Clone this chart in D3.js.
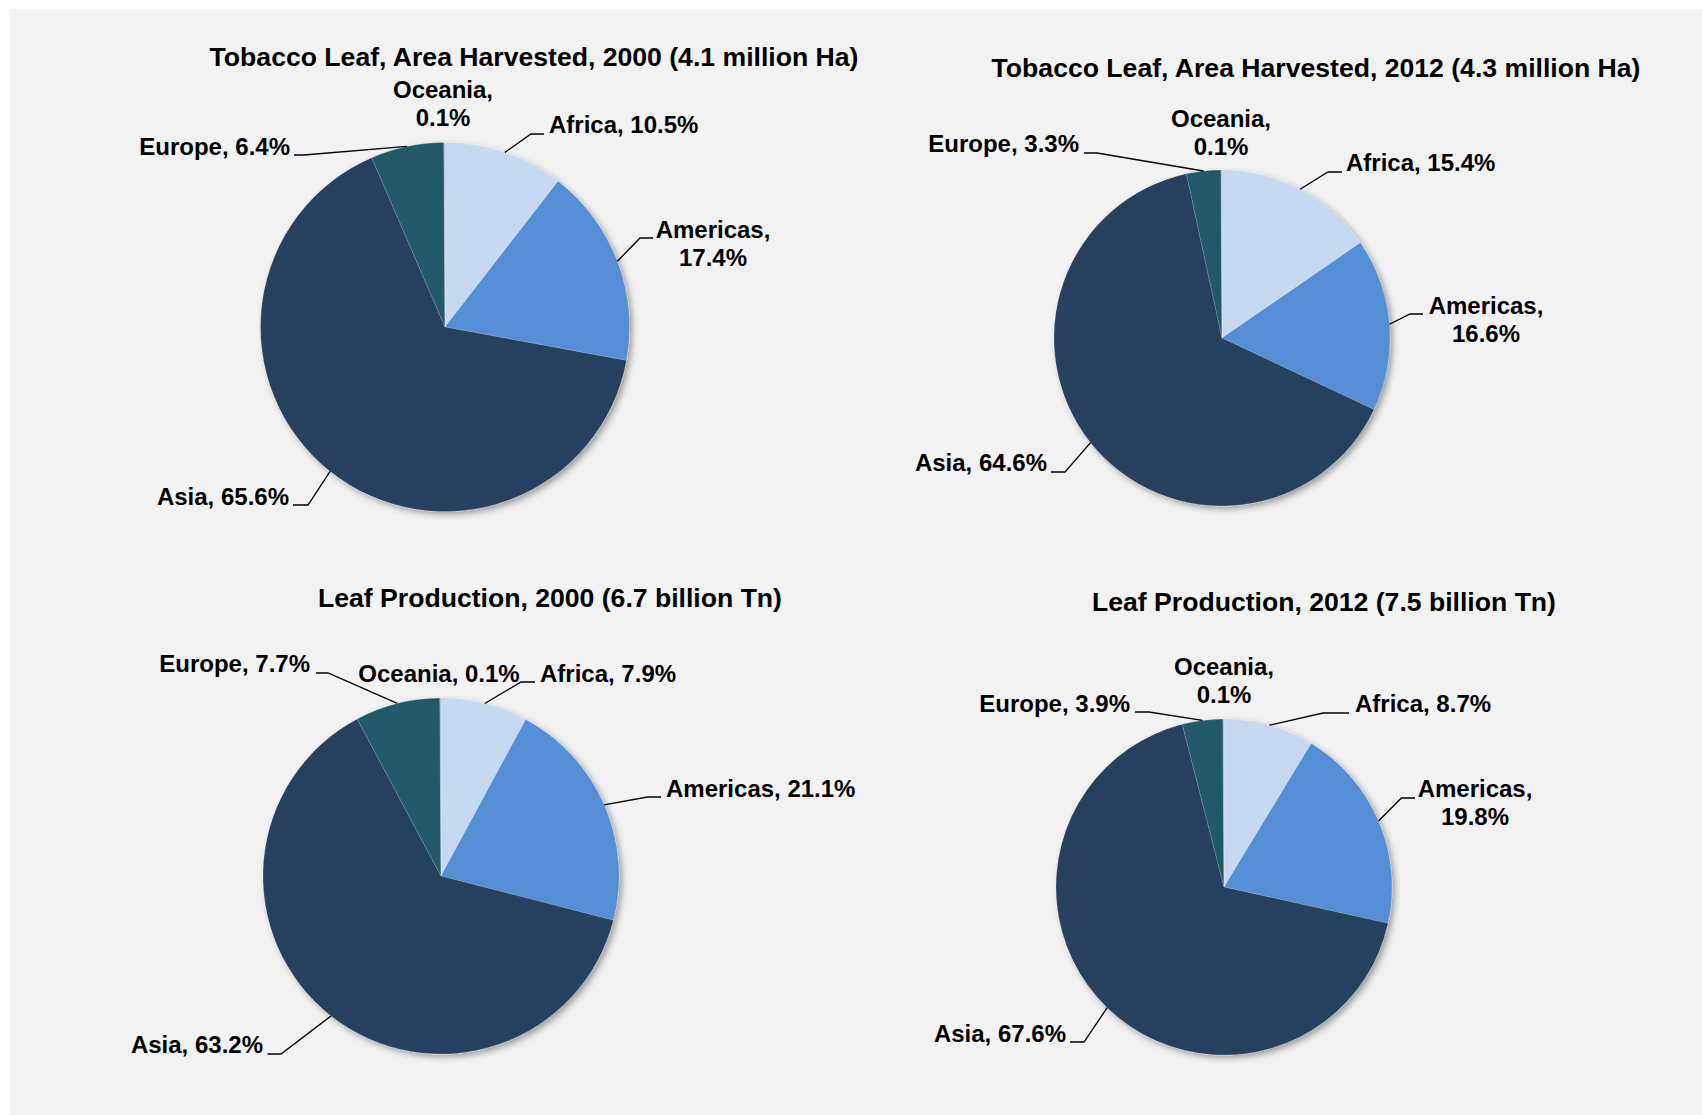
<!DOCTYPE html>
<html>
<meta charset="utf-8">
<style>
    body {
        margin: 0;
        overflow: hidden;
        background: #ffffff;
    }
    svg {
        display: block;
    }
    text {
        font-family: "Liberation Sans", Arial, sans-serif;
        font-weight: bold;
        fill: #000;
    }
    .title {
        font-size: 26.6px;
    }
    .lbl {
        font-size: 24px;
    }
    .leader {
        fill: none;
        stroke: #000;
        stroke-width: 1.3;
    }
</style>
<body>
<script src="https://cdn.jsdelivr.net/npm/d3@7"></script>
<script>
// slice order, clockwise from 12 o'clock
var regions = ["Africa", "Americas", "Asia", "Europe", "Oceania"];
var colors = ["#c6d9f1", "#558ed5", "#254061", "#215968", "#a3bcd6"];

// shares in percent
var area2000 = [10.5, 17.4, 65.6, 6.4, 0.1];
var area2012 = [15.4, 16.6, 64.6, 3.3, 0.1];
var prod2000 = [7.9, 21.1, 63.2, 7.7, 0.1];
var prod2012 = [8.7, 19.8, 67.6, 3.9, 0.1];

var titles = [
    "Tobacco Leaf, Area Harvested, 2000 (4.1 million Ha)",
    "Tobacco Leaf, Area Harvested, 2012 (4.3 million Ha)",
    "Leaf Production, 2000 (6.7 billion Tn)",
    "Leaf Production, 2012 (7.5 billion Tn)"
];

// where each chart sits and where its labels go
var layout = [
    {values: area2000, cx: 445, cy: 327, r: 184.5, tx: 534, ty: 66,
     labels: {
        Africa:   {x: 549, y: 133, a: "start", knee: [531, 134], end: 544},
        Americas: {x: 713, y: 237.5, a: "middle", split: true, knee: [640, 238], end: 653},
        Asia:     {x: 289, y: 505, a: "end", knee: [308, 505], end: 293},
        Europe:   {x: 290, y: 155, a: "end", knee: [304, 155], end: 294},
        Oceania:  {x: 443, y: 98, a: "middle", split: true}
     }},
    {values: area2012, cx: 1222, cy: 338, r: 168, tx: 1316, ty: 77,
     labels: {
        Africa:   {x: 1346, y: 171, a: "start", knee: [1328, 172], end: 1342},
        Americas: {x: 1486, y: 314, a: "middle", split: true, knee: [1410, 314], end: 1423},
        Asia:     {x: 1047, y: 471, a: "end", knee: [1065, 472], end: 1051},
        Europe:   {x: 1079, y: 152, a: "end", knee: [1097, 153], end: 1084},
        Oceania:  {x: 1221, y: 127, a: "middle", split: true}
     }},
    {values: prod2000, cx: 441, cy: 876, r: 178, tx: 550, ty: 607,
     labels: {
        Africa:   {x: 540, y: 682, a: "start", knee: [521, 682], end: 535},
        Americas: {x: 666, y: 796.5, a: "start", knee: [647.5, 797], end: 661},
        Asia:     {x: 263, y: 1053, a: "end", knee: [281, 1054], end: 267.5},
        Europe:   {x: 310, y: 671.5, a: "end", knee: [328, 673], end: 316},
        Oceania:  {x: 439, y: 682, a: "middle"}
     }},
    {values: prod2012, cx: 1224, cy: 887, r: 168, tx: 1324, ty: 611,
     labels: {
        Africa:   {x: 1355, y: 712, a: "start", knee: [1323, 713], end: 1349},
        Americas: {x: 1475, y: 796.5, a: "middle", split: true, knee: [1401.5, 798], end: 1415},
        Asia:     {x: 1066, y: 1041.5, a: "end", knee: [1084, 1042], end: 1070},
        Europe:   {x: 1130, y: 712, a: "end", knee: [1149, 712], end: 1135},
        Oceania:  {x: 1224, y: 675, a: "middle", split: true}
     }}
];

var W = 1702, H = 1115;
var svg = d3.select("body").append("svg").attr("width", W).attr("height", H);

var defs = svg.append("defs");
defs.append("filter").attr("id", "shadow")
    .attr("x", "-10%").attr("y", "-10%").attr("width", "125%").attr("height", "125%")
    .append("feDropShadow")
    .attr("dx", 3).attr("dy", 3).attr("stdDeviation", 3)
    .attr("flood-color", "#000").attr("flood-opacity", 0.35);

// grey panel
svg.append("rect").attr("x", 10).attr("y", 9).attr("width", W - 10).attr("height", H - 9)
    .attr("fill", "#f2f2f2");

var color = d3.scaleOrdinal().domain(regions).range(colors);
var pie = d3.pie().sort(null).value(function(d) { return d.v; });

layout.forEach(function(c, i) {
    var rows = regions.map(function(name, k) { return {name: name, v: c.values[k]}; });
    var arcs = pie(rows);
    var arc = d3.arc().innerRadius(0).outerRadius(c.r);
    var edge = d3.arc().innerRadius(c.r).outerRadius(c.r);

    var g = svg.append("g");

    g.append("text").attr("class", "title")
        .attr("x", c.tx).attr("y", c.ty).attr("text-anchor", "middle")
        .text(titles[i]);

    var pg = g.append("g").attr("transform", "translate(" + c.cx + "," + c.cy + ")")
        .attr("filter", "url(#shadow)");
    pg.selectAll("path").data(arcs).enter().append("path")
        .attr("d", arc)
        .attr("fill", function(d) { return color(d.data.name); })
        .attr("stroke", "rgba(255,255,255,0.22)")
        .attr("stroke-width", 0.7);

    arcs.forEach(function(d) {
        var L = c.labels[d.data.name];
        var pct = d.data.v.toFixed(1) + "%";
        if (L.knee) {
            var p = edge.centroid(d);
            var pts = [[c.cx + p[0], c.cy + p[1]], L.knee, [L.end, L.knee[1]]];
            g.append("path").attr("class", "leader").attr("d", d3.line()(pts));
        }
        var t = g.append("text").attr("class", "lbl")
            .attr("x", L.x).attr("y", L.y).attr("text-anchor", L.a);
        if (L.split) {
            t.append("tspan").attr("x", L.x).text(d.data.name + ",");
            t.append("tspan").attr("x", L.x).attr("dy", 28).text(pct);
        } else {
            t.text(d.data.name + ", " + pct);
        }
    });
});
</script>
</body>
</html>
